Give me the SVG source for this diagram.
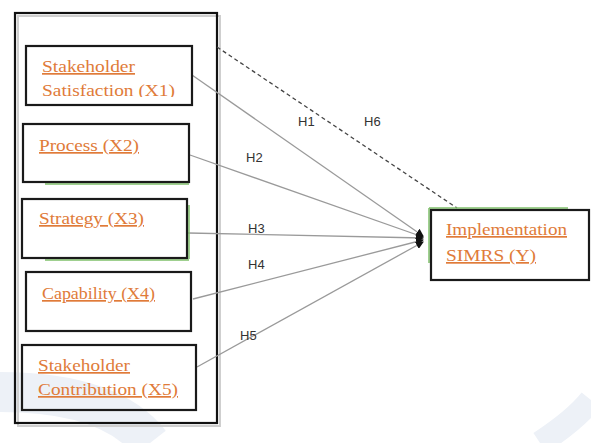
<svg xmlns="http://www.w3.org/2000/svg" width="591" height="443" viewBox="0 0 591 443">
<style>
.box{fill:none;stroke:#1a1a1a;stroke-width:2.2}
.lbl{font-family:"Liberation Serif","DejaVu Serif",serif;font-size:17px;fill:#e07b39;text-decoration:underline}
.h{font-family:"Liberation Sans","DejaVu Sans",sans-serif;font-size:13px;fill:#333}
.c{stroke:#9a9a9a;stroke-width:1.3;fill:none}
.g{stroke:#7fc06a;stroke-width:1.5}
.wm{fill:none;stroke:#edf1f7}
</style>
<defs>
<marker id="ah" markerWidth="8" markerHeight="8" refX="7" refY="4" orient="auto" markerUnits="userSpaceOnUse">
<path d="M0,0 L8,4 L0,8 z" fill="#111"/>
</marker>
<clipPath id="c1"><rect x="26" y="46" width="166" height="51"/></clipPath>
</defs>
<rect width="591" height="443" fill="#fff"/>
<g id="watermark">
<path class="wm" d="M0,392 Q110,392 150,443" stroke-width="40"/>
<path class="wm" d="M540,443 Q575,420 591,400" stroke-width="24"/>
</g>
<g id="container">
<rect x="18" y="16" width="202" height="410" fill="none" stroke="#cfcfcf" stroke-width="2"/>
<rect x="15" y="13" width="202" height="410" fill="none" stroke="#111" stroke-width="2.2"/>
</g>
<g id="connectors">
<line class="c" x1="192" y1="75" x2="423" y2="236" marker-end="url(#ah)"/>
<line class="c" x1="190" y1="155" x2="423" y2="237" marker-end="url(#ah)"/>
<line class="c" x1="188" y1="233" x2="423" y2="238" marker-end="url(#ah)"/>
<line class="c" x1="193" y1="299" x2="423" y2="240" marker-end="url(#ah)"/>
<line class="c" x1="197" y1="367" x2="423" y2="242" marker-end="url(#ah)"/>
<line x1="217" y1="47" x2="457" y2="208" stroke="#444" stroke-width="1.3" stroke-dasharray="4,3"/>
<text class="h" x="298" y="126">H1</text>
<text class="h" x="364" y="126">H6</text>
<text class="h" x="246" y="162">H2</text>
<text class="h" x="248" y="233">H3</text>
<text class="h" x="248" y="269">H4</text>
<text class="h" x="240" y="340">H5</text>
</g>
<g id="x1">
<rect class="box" x="26" y="46" width="166" height="59"/>
<text class="lbl" x="42" y="72" textLength="93" lengthAdjust="spacingAndGlyphs">Stakeholder</text>
<text class="lbl" x="42" y="96" textLength="133" lengthAdjust="spacingAndGlyphs" clip-path="url(#c1)">Satisfaction (X1)</text>
</g>
<g id="x2">
<line class="g" x1="45" y1="184" x2="189" y2="184"/>
<rect class="box" x="23" y="124" width="166" height="58"/>
<text class="lbl" x="39" y="151" textLength="100" lengthAdjust="spacingAndGlyphs">Process (X2)</text>
</g>
<g id="x3">
<line class="g" x1="189" y1="205" x2="189" y2="259"/>
<line class="g" x1="45" y1="260" x2="189" y2="260"/>
<rect class="box" x="22" y="199" width="165" height="59"/>
<text class="lbl" x="39" y="224" textLength="105" lengthAdjust="spacingAndGlyphs">Strategy (X3)</text>
</g>
<g id="x4">
<rect class="box" x="26" y="272" width="165" height="59"/>
<text class="lbl" x="42" y="299" textLength="113" lengthAdjust="spacingAndGlyphs">Capability (X4)</text>
</g>
<g id="x5">
<rect class="box" x="22" y="345" width="174" height="65"/>
<text class="lbl" x="38" y="371" textLength="92" lengthAdjust="spacingAndGlyphs">Stakeholder</text>
<text class="lbl" x="38" y="395" textLength="140" lengthAdjust="spacingAndGlyphs">Contribution (X5)</text>
</g>
<g id="y">
<line class="g" x1="429" y1="208" x2="568" y2="208"/>
<line class="g" x1="429" y1="208" x2="429" y2="263"/>
<rect class="box" x="431" y="210" width="158" height="70"/>
<text class="lbl" x="446" y="235" textLength="121" lengthAdjust="spacingAndGlyphs">Implementation</text>
<text class="lbl" x="446" y="261" textLength="90" lengthAdjust="spacingAndGlyphs">SIMRS (Y)</text>
</g>
</svg>
